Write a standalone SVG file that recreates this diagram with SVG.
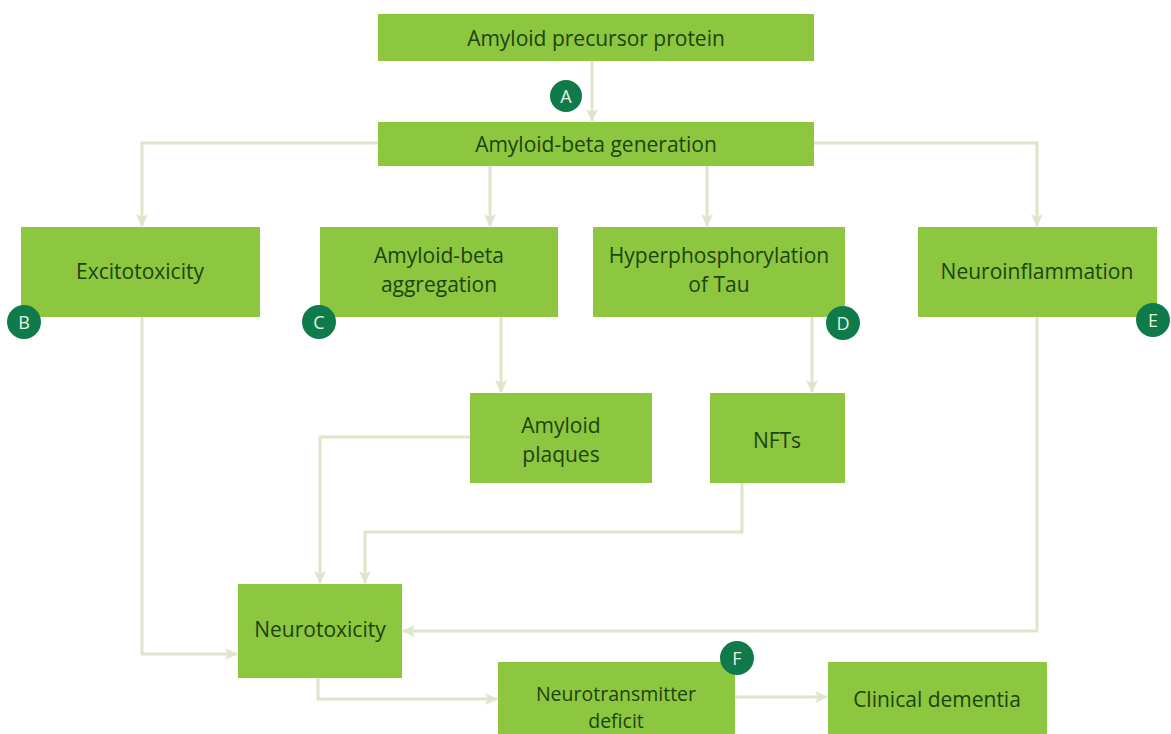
<svg xmlns="http://www.w3.org/2000/svg" width="1171" height="734" viewBox="0 0 1171 734">
  <style>
    .box { fill: #8dc63f; }
    .lbl { font-family: "Open Sans", "Liberation Sans", sans-serif; font-size: 21px; fill: #1c4410; text-anchor: middle; dominant-baseline: central; }
    .sm { font-size: 19.5px; }
    .conn { fill: none; stroke: #dde5cb; stroke-width: 3; marker-end: url(#arr); }
    .badge circle { fill: #0f7a4a; }
    .badge text { font-family: "Open Sans", "Liberation Sans", sans-serif; font-size: 18px; fill: #e6f4e0; text-anchor: middle; dominant-baseline: central; }
  </style>
  <defs>
    <marker id="arr" viewBox="0 0 14 14" refX="12" refY="7" markerWidth="14" markerHeight="14" markerUnits="userSpaceOnUse" orient="auto">
      <path d="M0,1 L13,7 L0,13 L3,7 Z" fill="#dde5cb"/>
    </marker>
  </defs>
  <rect width="1171" height="734" fill="#ffffff"/>

  <g id="connectors">
    <path class="conn" d="M592,61 V121"/>
    <path class="conn" d="M378,143 H142 V226"/>
    <path class="conn" d="M490,166 V226"/>
    <path class="conn" d="M707,166 V226"/>
    <path class="conn" d="M814,143 H1037 V226"/>
    <path class="conn" d="M501,317 V392"/>
    <path class="conn" d="M812,317 V392"/>
    <path class="conn" d="M142,317 V654 H237"/>
    <path class="conn" d="M470,437 H320 V583"/>
    <path class="conn" d="M742,483 V532 H365 V583"/>
    <path class="conn" d="M1037,317 V631 H403"/>
    <path class="conn" d="M318,678 V699 H497"/>
    <path class="conn" d="M735,697 H827"/>
  </g>

  <g id="n-app">
    <rect class="box" x="378" y="14" width="436" height="47"/>
    <text class="lbl" x="596" y="38">Amyloid precursor protein</text>
  </g>
  <g id="n-abgen">
    <rect class="box" x="378" y="122" width="436" height="44"/>
    <text class="lbl" x="596" y="144">Amyloid-beta generation</text>
  </g>
  <g id="n-excito">
    <rect class="box" x="21" y="227" width="239" height="90"/>
    <text class="lbl" x="140" y="271">Excitotoxicity</text>
  </g>
  <g id="n-aggr">
    <rect class="box" x="320" y="227" width="238" height="90"/>
    <text class="lbl" x="439" y="255">Amyloid-beta</text>
    <text class="lbl" x="439" y="284">aggregation</text>
  </g>
  <g id="n-hyper">
    <rect class="box" x="593" y="227" width="252" height="90"/>
    <text class="lbl" x="719" y="255">Hyperphosphorylation</text>
    <text class="lbl" x="719" y="284">of Tau</text>
  </g>
  <g id="n-neuroinfl">
    <rect class="box" x="918" y="227" width="239" height="90"/>
    <text class="lbl" x="1037" y="271">Neuroinflammation</text>
  </g>
  <g id="n-plaques">
    <rect class="box" x="470" y="393" width="182" height="90"/>
    <text class="lbl" x="561" y="425">Amyloid</text>
    <text class="lbl" x="561" y="454">plaques</text>
  </g>
  <g id="n-nfts">
    <rect class="box" x="710" y="393" width="135" height="90"/>
    <text class="lbl" x="777" y="440">NFTs</text>
  </g>
  <g id="n-neurotox">
    <rect class="box" x="238" y="584" width="164" height="94"/>
    <text class="lbl" x="320" y="629">Neurotoxicity</text>
  </g>
  <g id="n-ntdeficit">
    <rect class="box" x="498" y="662" width="237" height="80"/>
    <text class="lbl sm" x="616" y="693">Neurotransmitter</text>
    <text class="lbl sm" x="616" y="720">deficit</text>
  </g>
  <g id="n-dementia">
    <rect class="box" x="828" y="662" width="219" height="80"/>
    <text class="lbl" x="937" y="699">Clinical dementia</text>
  </g>

  <g id="badge-a" class="badge"><circle cx="566" cy="96" r="16"/><text x="566" y="96">A</text></g>
  <g id="badge-b" class="badge"><circle cx="24" cy="322" r="17"/><text x="24" y="322">B</text></g>
  <g id="badge-c" class="badge"><circle cx="319" cy="322" r="17"/><text x="319" y="322">C</text></g>
  <g id="badge-d" class="badge"><circle cx="843" cy="323" r="17"/><text x="843" y="323">D</text></g>
  <g id="badge-e" class="badge"><circle cx="1153" cy="320" r="17"/><text x="1153" y="320">E</text></g>
  <g id="badge-f" class="badge"><circle cx="737" cy="658" r="17"/><text x="737" y="658">F</text></g>
</svg>
